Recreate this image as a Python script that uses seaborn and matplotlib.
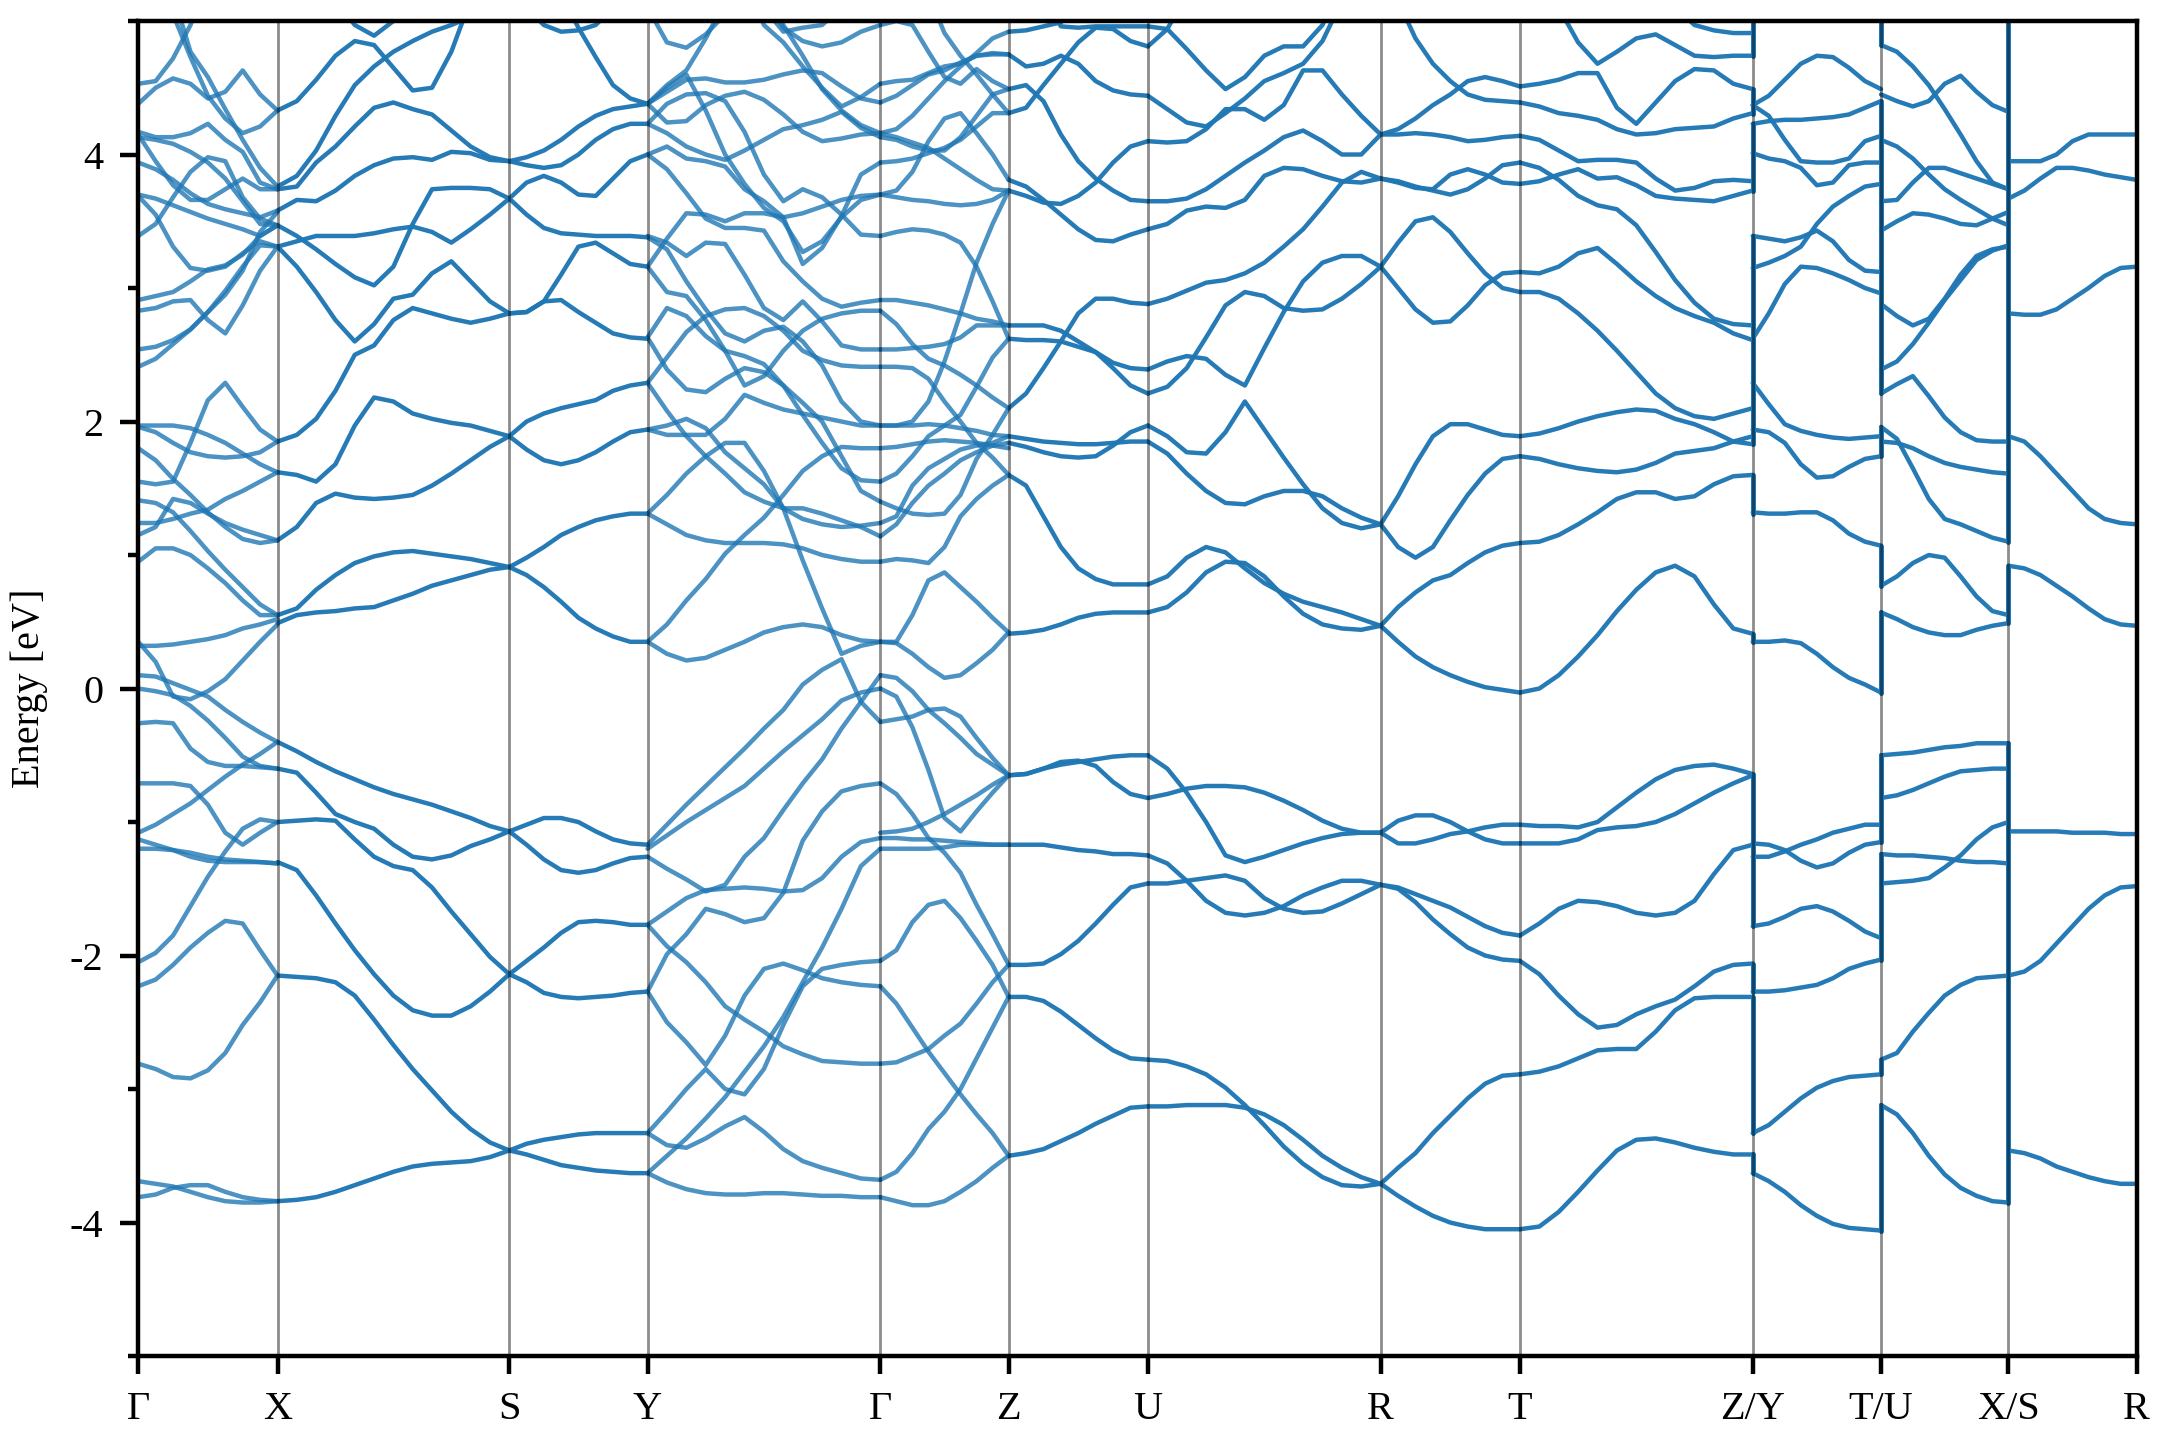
import numpy as np
import pandas as pd
import matplotlib
matplotlib.use("Agg")
import matplotlib.pyplot as plt
import seaborn as sns

# k-path nodes and labels
k_nodes = [0, 140, 373, 512, 746, 875, 1015, 1249, 1389, 1623, 1752, 1880, 2009]
k_labels = ["Γ", "X", "S", "Y", "Γ", "Z", "U", "R", "T", "Z/Y", "T/U", "X/S", "R"]

# energies in eV, one list per band piece, even k steps in each path segment
gamma_x = [
    [4.53, 4.55, 4.72, 4.97, 5.3, 5.5, 5.5, 5.5, 5.5],
    [4.38, 4.50, 4.57, 4.53, 4.42, 4.47, 4.63, 4.45, 4.33],
    [5.5, 5.5, 5.05, 4.73, 4.44, 4.27, 4.16, 4.21, 4.33],
    [5.5, 5.5, 5.2, 4.77, 4.58, 4.34, 4.11, 3.90, 3.76],
    [4.17, 4.13, 4.13, 4.16, 4.23, 4.11, 4.02, 3.79, 3.74],
    [4.15, 3.95, 3.77, 3.66, 3.66, 3.74, 3.82, 3.74, 3.74],
    [4.13, 4.11, 4.08, 4.02, 3.94, 3.82, 3.65, 3.48, 3.47],
    [3.94, 3.89, 3.81, 3.71, 3.63, 3.59, 3.56, 3.53, 3.58],
    [3.70, 3.67, 3.62, 3.57, 3.52, 3.48, 3.44, 3.39, 3.47],
    [3.69, 3.55, 3.31, 3.15, 3.13, 3.16, 3.26, 3.35, 3.31],
    [3.39, 3.48, 3.68, 3.87, 3.98, 3.95, 3.68, 3.52, 3.47],
    [2.91, 2.94, 2.97, 3.05, 3.14, 3.17, 3.25, 3.39, 3.47],
    [2.83, 2.85, 2.90, 2.91, 2.76, 2.66, 2.87, 3.13, 3.31],
    [2.54, 2.56, 2.61, 2.69, 2.82, 2.98, 3.16, 3.32, 3.31],
    [2.41, 2.47, 2.58, 2.69, 2.82, 2.95, 3.13, 3.42, 3.57],
    [1.97, 1.97, 1.97, 1.95, 1.90, 1.84, 1.76, 1.68, 1.62],
    [1.96, 1.92, 1.84, 1.77, 1.74, 1.73, 1.74, 1.77, 1.85],
    [1.80, 1.71, 1.57, 1.45, 1.32, 1.21, 1.12, 1.09, 1.11],
    [1.55, 1.53, 1.55, 1.84, 2.16, 2.29, 2.11, 1.94, 1.85],
    [1.41, 1.39, 1.32, 1.18, 1.03, 0.89, 0.76, 0.63, 0.55],
    [1.24, 1.24, 1.27, 1.31, 1.34, 1.42, 1.48, 1.55, 1.62],
    [1.15, 1.21, 1.42, 1.39, 1.31, 1.24, 1.19, 1.15, 1.11],
    [0.95, 1.05, 1.05, 1.00, 0.90, 0.79, 0.66, 0.55, 0.55],
    [0.32, 0.32, 0.33, 0.35, 0.37, 0.40, 0.45, 0.48, 0.52],
    [0.35, 0.20, -0.06, -0.08, -0.02, 0.07, 0.21, 0.35, 0.48],
    [0.10, 0.09, 0.04, -0.01, -0.06, -0.16, -0.25, -0.33, -0.40],
    [0.00, -0.02, -0.05, -0.13, -0.24, -0.37, -0.51, -0.58, -0.60],
    [-0.26, -0.25, -0.26, -0.45, -0.55, -0.58, -0.58, -0.59, -0.60],
    [-0.71, -0.71, -0.71, -0.73, -0.87, -1.08, -1.17, -1.08, -1.00],
    [-1.08, -1.02, -0.94, -0.86, -0.76, -0.66, -0.57, -0.49, -0.40],
    [-1.13, -1.17, -1.21, -1.26, -1.29, -1.30, -1.30, -1.30, -1.31],
    [-1.20, -1.20, -1.21, -1.23, -1.26, -1.28, -1.29, -1.30, -1.31],
    [-2.05, -1.98, -1.85, -1.63, -1.41, -1.22, -1.05, -0.98, -1.00],
    [-2.23, -2.18, -2.07, -1.94, -1.83, -1.74, -1.76, -1.96, -2.15],
    [-2.81, -2.85, -2.91, -2.92, -2.86, -2.73, -2.52, -2.35, -2.15],
    [-3.69, -3.71, -3.73, -3.77, -3.81, -3.84, -3.85, -3.85, -3.84],
    [-3.81, -3.79, -3.74, -3.72, -3.72, -3.77, -3.81, -3.83, -3.84],
]

x_s = [
    [4.33, 4.40, 4.56, 4.74, 4.85, 4.82, 4.65, 4.48, 4.50, 4.77, 5.16, 5.5, 5.5],
    [3.76, 3.84, 4.03, 4.29, 4.52, 4.66, 4.77, 4.85, 4.92, 4.97, 5.03, 5.2, 5.4],
    [5.5, 5.5, 5.5, 5.16, 4.97, 4.89, 5.0, 5.16, 5.5, 5.5, 5.5, 5.5, 5.5],
    [3.74, 3.76, 3.94, 4.06, 4.21, 4.35, 4.39, 4.34, 4.30, 4.18, 4.06, 3.98, 3.95],
    [3.58, 3.66, 3.65, 3.73, 3.84, 3.92, 3.97, 3.98, 3.96, 4.02, 4.01, 3.96, 3.95],
    [3.47, 3.39, 3.29, 3.18, 3.08, 3.02, 3.16, 3.48, 3.74, 3.75, 3.75, 3.74, 3.67],
    [3.31, 3.35, 3.39, 3.39, 3.39, 3.41, 3.44, 3.46, 3.42, 3.34, 3.44, 3.55, 3.67],
    [3.31, 3.16, 2.97, 2.76, 2.60, 2.73, 2.92, 2.95, 3.11, 3.20, 3.05, 2.90, 2.81],
    [1.85, 1.90, 2.02, 2.23, 2.50, 2.57, 2.76, 2.85, 2.81, 2.77, 2.74, 2.77, 2.81],
    [1.62, 1.60, 1.55, 1.68, 1.97, 2.18, 2.15, 2.06, 2.02, 1.99, 1.97, 1.93, 1.89],
    [1.11, 1.21, 1.39, 1.46, 1.43, 1.42, 1.43, 1.45, 1.52, 1.61, 1.71, 1.81, 1.89],
    [0.55, 0.60, 0.74, 0.85, 0.94, 0.99, 1.02, 1.03, 1.01, 0.99, 0.97, 0.94, 0.91],
    [0.49, 0.55, 0.57, 0.58, 0.60, 0.61, 0.66, 0.71, 0.77, 0.81, 0.85, 0.89, 0.91],
    [-0.40, -0.47, -0.55, -0.62, -0.68, -0.74, -0.79, -0.83, -0.87, -0.92, -0.97, -1.03, -1.07],
    [-0.60, -0.63, -0.78, -0.94, -1.00, -1.05, -1.17, -1.26, -1.28, -1.25, -1.18, -1.13, -1.07],
    [-1.00, -0.99, -0.98, -0.99, -1.13, -1.26, -1.33, -1.36, -1.49, -1.67, -1.84, -2.01, -2.14],
    [-1.30, -1.36, -1.55, -1.76, -1.96, -2.14, -2.30, -2.41, -2.45, -2.45, -2.38, -2.27, -2.14],
    [-2.15, -2.16, -2.17, -2.20, -2.30, -2.48, -2.67, -2.85, -3.01, -3.17, -3.30, -3.40, -3.46],
    [-3.84, -3.83, -3.81, -3.77, -3.72, -3.67, -3.62, -3.58, -3.56, -3.55, -3.54, -3.51, -3.46],
]

s_y = [
    [5.2, 5.1, 4.97, 4.92, 4.93, 4.97, 5.1, 5.3, 5.3],
    [5.5, 5.5, 5.4, 5.2, 4.95, 4.73, 4.52, 4.42, 4.38],
    [3.95, 3.98, 4.03, 4.11, 4.21, 4.29, 4.34, 4.36, 4.38],
    [3.95, 3.92, 3.90, 3.92, 4.00, 4.11, 4.19, 4.23, 4.23],
    [3.67, 3.79, 3.84, 3.79, 3.70, 3.69, 3.82, 3.95, 4.00],
    [3.67, 3.55, 3.45, 3.41, 3.40, 3.39, 3.39, 3.39, 3.38],
    [2.81, 2.82, 2.90, 3.10, 3.31, 3.34, 3.26, 3.18, 3.16],
    [2.81, 2.82, 2.90, 2.91, 2.82, 2.74, 2.66, 2.63, 2.62],
    [1.89, 1.79, 1.71, 1.68, 1.71, 1.77, 1.85, 1.92, 1.94],
    [1.89, 2.00, 2.06, 2.10, 2.13, 2.16, 2.23, 2.27, 2.29],
    [0.91, 0.98, 1.06, 1.15, 1.21, 1.26, 1.29, 1.31, 1.31],
    [0.91, 0.85, 0.76, 0.65, 0.53, 0.45, 0.39, 0.35, 0.35],
    [-1.07, -1.02, -0.97, -0.97, -1.00, -1.07, -1.13, -1.16, -1.17],
    [-1.07, -1.17, -1.28, -1.36, -1.38, -1.36, -1.31, -1.27, -1.26],
    [-2.14, -2.04, -1.94, -1.83, -1.75, -1.74, -1.75, -1.77, -1.77],
    [-2.14, -2.20, -2.28, -2.31, -2.32, -2.31, -2.30, -2.28, -2.27],
    [-3.46, -3.41, -3.38, -3.36, -3.34, -3.33, -3.33, -3.33, -3.33],
    [-3.46, -3.49, -3.53, -3.57, -3.59, -3.61, -3.62, -3.63, -3.63],
]

y_gamma = [
    [4.38, 4.52, 4.63, 4.87, 5.15, 5.3, 4.97, 4.84, 4.66, 4.50, 4.36, 4.43, 4.53],
    [5.1, 4.84, 4.80, 4.90, 5.05, 5.2, 5.1, 4.92, 4.95, 4.97, 5.1, 5.2, 5.2],
    [5.5, 5.5, 5.5, 5.5, 5.5, 5.5, 5.2, 4.95, 4.85, 4.81, 4.84, 4.92, 4.97],
    [5.5, 5.5, 5.5, 5.5, 5.5, 5.5, 5.3, 4.97, 4.74, 4.49, 4.33, 4.22, 4.16],
    [4.38, 4.47, 4.56, 4.57, 4.54, 4.54, 4.56, 4.60, 4.63, 4.61, 4.51, 4.42, 4.39],
    [4.38, 4.24, 4.25, 4.37, 4.44, 4.47, 4.41, 4.30, 4.17, 4.10, 4.12, 4.15, 4.16],
    [4.23, 4.38, 4.45, 4.46, 4.40, 4.17, 3.85, 3.65, 3.74, 3.68, 3.55, 3.40, 3.39],
    [4.23, 4.16, 4.06, 4.00, 3.96, 4.03, 4.11, 4.19, 4.22, 4.26, 4.32, 4.20, 4.13],
    [4.00, 4.06, 3.97, 3.95, 3.91, 3.74, 3.65, 3.53, 3.18, 3.30, 3.54, 3.85, 3.94],
    [4.38, 4.50, 4.60, 4.33, 4.00, 3.78, 3.60, 3.50, 3.27, 3.35, 3.53, 3.66, 3.70],
    [4.00, 3.89, 3.71, 3.52, 3.45, 3.45, 3.43, 3.20, 3.05, 2.92, 2.86, 2.89, 2.91],
    [3.16, 3.37, 3.56, 3.55, 3.50, 3.56, 3.56, 3.53, 3.56, 3.61, 3.66, 3.69, 3.70],
    [3.39, 3.34, 3.24, 3.34, 3.33, 3.10, 2.85, 2.76, 2.90, 2.75, 2.57, 2.54, 2.54],
    [3.38, 3.29, 3.05, 2.84, 2.66, 2.60, 2.68, 2.71, 2.60, 2.42, 2.15, 2.00, 1.97],
    [3.16, 2.97, 2.94, 2.76, 2.53, 2.27, 2.34, 2.53, 2.68, 2.77, 2.81, 2.83, 2.83],
    [2.63, 2.85, 2.79, 2.64, 2.53, 2.49, 2.43, 2.27, 2.05, 1.84, 1.65, 1.56, 1.55],
    [2.63, 2.39, 2.24, 2.22, 2.32, 2.40, 2.37, 2.27, 2.14, 2.00, 1.74, 1.48, 1.40],
    [2.29, 2.48, 2.67, 2.79, 2.84, 2.85, 2.79, 2.68, 2.53, 2.46, 2.42, 2.41, 2.41],
    [2.29, 2.08, 1.89, 1.74, 1.61, 1.47, 1.40, 1.35, 1.35, 1.31, 1.26, 1.21, 1.14],
    [1.94, 1.97, 2.02, 1.95, 1.77, 1.65, 1.53, 1.35, 1.27, 1.23, 1.21, 1.22, 1.24],
    [1.94, 1.90, 1.90, 1.90, 2.02, 2.20, 2.14, 2.09, 2.06, 2.03, 2.00, 1.97, 1.97],
    [1.31, 1.45, 1.61, 1.74, 1.84, 1.84, 1.63, 1.35, 0.96, 0.60, 0.26, 0.32, 0.35],
    [1.31, 1.23, 1.15, 1.11, 1.09, 1.09, 1.09, 1.08, 1.05, 1.00, 0.97, 0.95, 0.95],
    [0.35, 0.48, 0.66, 0.82, 1.01, 1.15, 1.28, 1.45, 1.63, 1.74, 1.81, 1.80, 1.80],
    [0.35, 0.26, 0.21, 0.23, 0.29, 0.35, 0.42, 0.46, 0.48, 0.46, 0.40, 0.36, 0.35],
    [-1.17, -1.02, -0.87, -0.73, -0.59, -0.45, -0.30, -0.16, 0.03, 0.14, 0.22, -0.10, -0.25],
    [-1.20, -1.10, -1.00, -0.91, -0.82, -0.73, -0.60, -0.47, -0.35, -0.23, -0.09, -0.03, 0.00],
    [-1.26, -1.35, -1.43, -1.52, -1.47, -1.26, -1.12, -0.91, -0.71, -0.53, -0.30, -0.10, 0.10],
    [-1.77, -1.67, -1.57, -1.51, -1.50, -1.49, -1.50, -1.52, -1.51, -1.42, -1.26, -1.15, -1.12],
    [-1.77, -1.93, -2.05, -2.20, -2.38, -2.48, -2.57, -2.68, -2.74, -2.79, -2.80, -2.81, -2.81],
    [-2.27, -1.99, -1.84, -1.65, -1.69, -1.75, -1.72, -1.53, -1.14, -0.92, -0.77, -0.73, -0.71],
    [-2.27, -2.50, -2.65, -2.82, -2.60, -2.30, -2.10, -2.06, -2.11, -2.17, -2.20, -2.22, -2.23],
    [-3.33, -3.17, -3.00, -2.85, -3.00, -3.04, -2.85, -2.52, -2.23, -2.10, -2.07, -2.05, -2.04],
    [-3.33, -3.42, -3.44, -3.37, -3.28, -3.21, -3.32, -3.45, -3.54, -3.59, -3.63, -3.67, -3.68],
    [-3.63, -3.50, -3.37, -3.22, -3.06, -2.87, -2.68, -2.46, -2.20, -1.94, -1.65, -1.33, -1.20],
    [-3.63, -3.70, -3.75, -3.78, -3.79, -3.79, -3.78, -3.78, -3.79, -3.80, -3.80, -3.81, -3.81],
]

gamma_z = [
    [4.53, 4.55, 4.56, 4.61, 4.66, 4.68, 4.74, 4.76, 4.75],
    [4.39, 4.44, 4.52, 4.60, 4.63, 4.69, 4.74, 4.75, 4.75],
    [4.97, 5.0, 4.97, 4.77, 4.58, 4.53, 4.64, 4.55, 4.49],
    [5.5, 5.5, 5.3, 5.2, 4.91, 4.74, 4.60, 4.45, 4.31],
    [4.16, 4.19, 4.29, 4.42, 4.55, 4.66, 4.76, 4.87, 4.92],
    [4.13, 4.11, 4.06, 4.03, 4.03, 4.13, 4.29, 4.45, 4.49],
    [4.16, 4.13, 4.09, 4.05, 3.97, 3.89, 3.81, 3.74, 3.73],
    [3.94, 3.95, 3.97, 4.01, 4.05, 4.11, 4.21, 4.31, 4.31],
    [3.70, 3.73, 3.87, 4.10, 4.27, 4.31, 4.16, 4.00, 3.81],
    [3.70, 3.68, 3.66, 3.65, 3.63, 3.62, 3.63, 3.66, 3.73],
    [3.39, 3.42, 3.44, 3.43, 3.40, 3.34, 3.16, 2.90, 2.62],
    [2.91, 2.91, 2.89, 2.87, 2.84, 2.81, 2.77, 2.75, 2.72],
    [2.83, 2.73, 2.58, 2.47, 2.42, 2.35, 2.27, 2.18, 2.10],
    [2.54, 2.54, 2.55, 2.56, 2.58, 2.63, 2.72, 2.72, 2.72],
    [2.41, 2.41, 2.40, 2.32, 2.15, 2.00, 1.84, 1.73, 1.60],
    [1.97, 1.97, 1.97, 1.98, 1.97, 1.95, 1.93, 1.90, 1.89],
    [1.97, 1.97, 2.00, 2.15, 2.45, 2.81, 3.19, 3.48, 3.73],
    [1.80, 1.81, 1.83, 1.85, 1.86, 1.85, 1.84, 1.82, 1.80],
    [1.55, 1.61, 1.74, 1.89, 1.97, 2.05, 2.26, 2.48, 2.62],
    [1.40, 1.35, 1.31, 1.30, 1.31, 1.45, 1.72, 1.90, 2.10],
    [1.24, 1.29, 1.52, 1.65, 1.72, 1.79, 1.82, 1.84, 1.89],
    [1.14, 1.23, 1.39, 1.52, 1.61, 1.71, 1.77, 1.82, 1.84],
    [0.95, 0.97, 0.96, 0.94, 1.06, 1.29, 1.42, 1.52, 1.60],
    [0.35, 0.35, 0.55, 0.81, 0.87, 0.76, 0.65, 0.53, 0.42],
    [0.35, 0.34, 0.26, 0.16, 0.08, 0.10, 0.19, 0.29, 0.42],
    [-0.25, -0.23, -0.21, -0.16, -0.15, -0.21, -0.37, -0.52, -0.65],
    [0.10, 0.08, -0.02, -0.16, -0.26, -0.37, -0.49, -0.57, -0.65],
    [0.00, -0.06, -0.29, -0.61, -0.97, -1.07, -0.92, -0.78, -0.65],
    [-0.71, -0.79, -0.94, -1.12, -1.23, -1.38, -1.62, -1.84, -2.07],
    [-1.08, -1.07, -1.05, -1.00, -0.94, -0.87, -0.80, -0.72, -0.65],
    [-1.12, -1.12, -1.13, -1.13, -1.14, -1.15, -1.16, -1.17, -1.17],
    [-1.20, -1.20, -1.20, -1.20, -1.19, -1.17, -1.17, -1.17, -1.17],
    [-2.04, -1.96, -1.75, -1.62, -1.59, -1.72, -1.89, -2.07, -2.31],
    [-2.23, -2.36, -2.54, -2.72, -2.88, -3.04, -3.19, -3.33, -3.50],
    [-2.81, -2.80, -2.75, -2.70, -2.60, -2.51, -2.36, -2.20, -2.07],
    [-3.68, -3.62, -3.48, -3.30, -3.17, -3.00, -2.77, -2.54, -2.31],
    [-3.81, -3.84, -3.87, -3.87, -3.84, -3.77, -3.69, -3.59, -3.50],
]

z_u = [
    [4.92, 4.93, 4.96, 4.99, 5.1, 5.3, 5.5, 5.5, 5.5],
    [5.5, 5.5, 5.2, 4.96, 4.95, 4.96, 4.96, 4.96, 4.96],
    [4.75, 4.66, 4.68, 4.74, 4.68, 4.55, 4.48, 4.45, 4.44],
    [4.49, 4.52, 4.40, 4.15, 3.95, 3.82, 3.73, 3.66, 3.65],
    [4.31, 4.35, 4.52, 4.68, 4.84, 4.95, 4.94, 4.85, 4.81],
    [3.81, 3.76, 3.66, 3.55, 3.44, 3.36, 3.35, 3.40, 3.44],
    [3.73, 3.69, 3.64, 3.63, 3.69, 3.79, 3.94, 4.06, 4.10],
    [2.72, 2.72, 2.72, 2.68, 2.60, 2.52, 2.44, 2.40, 2.39],
    [2.62, 2.61, 2.61, 2.60, 2.56, 2.52, 2.40, 2.27, 2.21],
    [2.10, 2.21, 2.40, 2.60, 2.81, 2.92, 2.92, 2.89, 2.88],
    [1.89, 1.87, 1.85, 1.84, 1.83, 1.83, 1.84, 1.85, 1.85],
    [1.84, 1.81, 1.77, 1.74, 1.73, 1.74, 1.82, 1.92, 1.97],
    [1.60, 1.52, 1.29, 1.06, 0.90, 0.82, 0.78, 0.78, 0.78],
    [0.41, 0.42, 0.44, 0.48, 0.53, 0.56, 0.57, 0.57, 0.57],
    [-0.65, -0.64, -0.60, -0.57, -0.55, -0.53, -0.51, -0.50, -0.50],
    [-0.65, -0.64, -0.60, -0.55, -0.54, -0.58, -0.70, -0.79, -0.82],
    [-1.17, -1.17, -1.17, -1.19, -1.21, -1.22, -1.24, -1.24, -1.25],
    [-2.07, -2.07, -2.06, -1.99, -1.89, -1.76, -1.62, -1.49, -1.46],
    [-2.31, -2.31, -2.34, -2.42, -2.52, -2.62, -2.71, -2.77, -2.78],
    [-3.50, -3.48, -3.45, -3.39, -3.33, -3.26, -3.20, -3.14, -3.13],
]

u_r = [
    [4.96, 4.94, 4.79, 4.63, 4.49, 4.58, 4.74, 4.81, 4.81, 4.97, 5.3, 5.5, 5.5],
    [4.81, 4.94, 5.2, 5.4, 5.5, 5.5, 5.5, 5.5, 5.5, 5.5, 5.5, 5.5, 5.5],
    [4.44, 4.34, 4.24, 4.21, 4.31, 4.42, 4.55, 4.61, 4.68, 4.85, 5.15, 5.4, 5.5],
    [4.10, 4.09, 4.10, 4.19, 4.34, 4.34, 4.26, 4.37, 4.63, 4.63, 4.45, 4.29, 4.15],
    [3.65, 3.65, 3.67, 3.74, 3.84, 3.94, 4.03, 4.13, 4.18, 4.10, 4.00, 4.00, 4.15],
    [3.44, 3.48, 3.58, 3.61, 3.60, 3.66, 3.84, 3.90, 3.89, 3.84, 3.80, 3.79, 3.82],
    [2.88, 2.92, 2.98, 3.04, 3.06, 3.11, 3.19, 3.31, 3.44, 3.61, 3.79, 3.87, 3.82],
    [2.39, 2.45, 2.49, 2.47, 2.35, 2.27, 2.55, 2.82, 3.05, 3.19, 3.24, 3.24, 3.16],
    [2.21, 2.26, 2.40, 2.63, 2.87, 2.97, 2.94, 2.85, 2.83, 2.84, 2.92, 3.03, 3.16],
    [1.97, 1.89, 1.77, 1.76, 1.92, 2.15, 1.94, 1.73, 1.53, 1.35, 1.24, 1.20, 1.23],
    [1.85, 1.76, 1.61, 1.48, 1.39, 1.38, 1.44, 1.48, 1.48, 1.44, 1.35, 1.28, 1.23],
    [0.78, 0.84, 0.98, 1.06, 1.02, 0.90, 0.79, 0.71, 0.65, 0.61, 0.57, 0.52, 0.47],
    [0.57, 0.61, 0.72, 0.87, 0.95, 0.94, 0.84, 0.69, 0.56, 0.48, 0.45, 0.44, 0.47],
    [-0.50, -0.60, -0.78, -1.00, -1.25, -1.30, -1.26, -1.21, -1.16, -1.12, -1.09, -1.08, -1.08],
    [-0.82, -0.79, -0.75, -0.73, -0.73, -0.74, -0.78, -0.84, -0.91, -0.99, -1.05, -1.08, -1.08],
    [-1.25, -1.31, -1.44, -1.59, -1.68, -1.70, -1.68, -1.63, -1.55, -1.49, -1.44, -1.44, -1.47],
    [-1.46, -1.46, -1.44, -1.42, -1.40, -1.44, -1.57, -1.65, -1.68, -1.67, -1.61, -1.54, -1.47],
    [-2.78, -2.79, -2.83, -2.89, -2.99, -3.12, -3.27, -3.43, -3.56, -3.66, -3.72, -3.73, -3.71],
    [-3.13, -3.13, -3.12, -3.12, -3.12, -3.14, -3.19, -3.27, -3.38, -3.50, -3.59, -3.66, -3.71],
]

r_t = [
    [5.5, 5.15, 4.87, 4.68, 4.55, 4.45, 4.41, 4.40, 4.39],
    [4.15, 4.19, 4.27, 4.37, 4.45, 4.55, 4.58, 4.55, 4.51],
    [4.15, 4.15, 4.16, 4.15, 4.13, 4.10, 4.11, 4.13, 4.14],
    [3.82, 3.79, 3.75, 3.74, 3.85, 3.89, 3.85, 3.79, 3.78],
    [3.82, 3.80, 3.76, 3.73, 3.70, 3.74, 3.82, 3.92, 3.94],
    [3.16, 3.34, 3.50, 3.53, 3.42, 3.26, 3.11, 3.00, 2.97],
    [3.16, 3.00, 2.84, 2.74, 2.75, 2.87, 3.02, 3.11, 3.12],
    [1.23, 1.44, 1.68, 1.89, 1.98, 1.98, 1.94, 1.90, 1.89],
    [1.23, 1.06, 0.98, 1.06, 1.26, 1.45, 1.61, 1.72, 1.74],
    [0.47, 0.61, 0.72, 0.81, 0.85, 0.94, 1.02, 1.07, 1.09],
    [0.47, 0.35, 0.24, 0.16, 0.10, 0.05, 0.01, -0.01, -0.03],
    [-1.08, -0.99, -0.95, -0.95, -1.00, -1.07, -1.13, -1.16, -1.16],
    [-1.08, -1.16, -1.16, -1.13, -1.09, -1.07, -1.04, -1.02, -1.02],
    [-1.47, -1.49, -1.54, -1.59, -1.64, -1.71, -1.78, -1.83, -1.85],
    [-1.47, -1.50, -1.60, -1.73, -1.84, -1.94, -2.00, -2.03, -2.04],
    [-3.71, -3.59, -3.48, -3.33, -3.20, -3.07, -2.96, -2.90, -2.89],
    [-3.71, -3.80, -3.88, -3.95, -4.00, -4.03, -4.05, -4.05, -4.05],
]

t_zy = [
    [5.5, 5.4, 5.1, 4.84, 4.68, 4.77, 4.87, 4.90, 4.82, 4.74, 4.73, 4.74, 4.74],
    [5.5, 5.5, 5.5, 5.5, 5.5, 5.5, 5.5, 5.4, 5.1, 4.97, 4.93, 4.91, 4.91],
    [4.51, 4.53, 4.56, 4.61, 4.61, 4.35, 4.23, 4.39, 4.55, 4.64, 4.63, 4.53, 4.49],
    [4.39, 4.36, 4.31, 4.29, 4.26, 4.19, 4.15, 4.16, 4.19, 4.20, 4.21, 4.27, 4.31],
    [4.14, 4.11, 4.03, 3.95, 3.96, 3.96, 3.94, 3.82, 3.73, 3.75, 3.80, 3.81, 3.80],
    [3.94, 3.90, 3.81, 3.69, 3.62, 3.59, 3.47, 3.27, 3.06, 2.89, 2.77, 2.73, 2.72],
    [3.78, 3.80, 3.85, 3.89, 3.82, 3.83, 3.77, 3.69, 3.67, 3.66, 3.65, 3.69, 3.73],
    [3.12, 3.11, 3.16, 3.26, 3.30, 3.18, 3.05, 2.94, 2.85, 2.79, 2.74, 2.66, 2.61],
    [2.97, 2.97, 2.92, 2.81, 2.68, 2.53, 2.37, 2.21, 2.10, 2.04, 2.02, 2.06, 2.10],
    [1.89, 1.91, 1.95, 2.00, 2.04, 2.07, 2.09, 2.08, 2.02, 1.98, 1.92, 1.85, 1.83],
    [1.74, 1.72, 1.68, 1.65, 1.63, 1.62, 1.64, 1.69, 1.76, 1.78, 1.80, 1.85, 1.89],
    [1.09, 1.10, 1.15, 1.23, 1.32, 1.42, 1.47, 1.47, 1.42, 1.44, 1.53, 1.59, 1.60],
    [-0.03, 0.00, 0.10, 0.24, 0.40, 0.58, 0.74, 0.87, 0.92, 0.84, 0.63, 0.45, 0.41],
    [-1.02, -1.03, -1.03, -1.04, -1.00, -0.89, -0.78, -0.68, -0.61, -0.58, -0.57, -0.60, -0.64],
    [-1.16, -1.16, -1.16, -1.13, -1.06, -1.04, -1.03, -1.00, -0.94, -0.86, -0.78, -0.71, -0.65],
    [-1.85, -1.76, -1.65, -1.59, -1.60, -1.63, -1.68, -1.70, -1.68, -1.59, -1.39, -1.21, -1.17],
    [-2.04, -2.14, -2.30, -2.44, -2.54, -2.52, -2.44, -2.38, -2.33, -2.23, -2.12, -2.07, -2.06],
    [-2.89, -2.87, -2.83, -2.77, -2.71, -2.70, -2.70, -2.57, -2.41, -2.32, -2.31, -2.31, -2.31],
    [-4.05, -4.03, -3.92, -3.77, -3.61, -3.46, -3.38, -3.37, -3.40, -3.44, -3.47, -3.49, -3.49],
]

y_t = [
    [4.37, 4.44, 4.56, 4.68, 4.74, 4.73, 4.65, 4.55, 4.49],
    [4.37, 4.29, 4.11, 3.95, 3.94, 3.94, 3.97, 4.10, 4.14],
    [4.23, 4.25, 4.26, 4.26, 4.27, 4.28, 4.30, 4.35, 4.40],
    [4.01, 3.97, 3.95, 3.90, 3.77, 3.79, 3.92, 3.94, 3.94],
    [3.39, 3.37, 3.35, 3.38, 3.43, 3.35, 3.21, 3.13, 3.12],
    [3.15, 3.19, 3.24, 3.31, 3.48, 3.61, 3.69, 3.76, 3.78],
    [2.62, 2.81, 3.03, 3.16, 3.15, 3.11, 3.06, 3.00, 2.96],
    [2.29, 2.13, 1.98, 1.93, 1.90, 1.88, 1.87, 1.88, 1.89],
    [1.94, 1.92, 1.84, 1.68, 1.58, 1.59, 1.66, 1.72, 1.74],
    [1.32, 1.31, 1.31, 1.32, 1.32, 1.26, 1.16, 1.10, 1.07],
    [0.35, 0.35, 0.36, 0.34, 0.26, 0.16, 0.08, 0.03, -0.03],
    [-1.16, -1.17, -1.21, -1.29, -1.34, -1.31, -1.23, -1.17, -1.15],
    [-1.26, -1.26, -1.22, -1.17, -1.13, -1.08, -1.05, -1.02, -1.02],
    [-1.78, -1.76, -1.71, -1.65, -1.63, -1.67, -1.74, -1.82, -1.87],
    [-2.27, -2.27, -2.26, -2.24, -2.22, -2.17, -2.10, -2.06, -2.03],
    [-3.33, -3.27, -3.17, -3.07, -2.99, -2.94, -2.91, -2.90, -2.89],
    [-3.63, -3.69, -3.77, -3.87, -3.95, -4.01, -4.04, -4.05, -4.06],
]

u_x = [
    [4.82, 4.77, 4.66, 4.52, 4.34, 4.15, 3.95, 3.79, 3.74],
    [4.45, 4.40, 4.36, 4.40, 4.53, 4.59, 4.47, 4.37, 4.32],
    [4.11, 4.06, 3.97, 3.85, 3.74, 3.66, 3.59, 3.52, 3.47],
    [3.65, 3.66, 3.79, 3.90, 3.90, 3.86, 3.82, 3.78, 3.74],
    [3.43, 3.50, 3.56, 3.55, 3.52, 3.48, 3.47, 3.52, 3.57],
    [2.88, 2.79, 2.72, 2.77, 2.92, 3.10, 3.24, 3.29, 3.31],
    [2.39, 2.45, 2.58, 2.74, 2.91, 3.06, 3.21, 3.28, 3.32],
    [2.21, 2.28, 2.34, 2.19, 2.03, 1.92, 1.86, 1.85, 1.85],
    [1.96, 1.87, 1.65, 1.42, 1.27, 1.23, 1.18, 1.13, 1.10],
    [1.85, 1.84, 1.80, 1.74, 1.69, 1.66, 1.64, 1.62, 1.61],
    [0.77, 0.84, 0.94, 1.00, 0.98, 0.84, 0.69, 0.58, 0.55],
    [0.57, 0.52, 0.46, 0.42, 0.40, 0.40, 0.44, 0.47, 0.49],
    [-0.50, -0.49, -0.48, -0.46, -0.44, -0.43, -0.41, -0.41, -0.41],
    [-0.82, -0.80, -0.76, -0.71, -0.66, -0.62, -0.61, -0.60, -0.60],
    [-1.24, -1.25, -1.25, -1.26, -1.27, -1.29, -1.30, -1.30, -1.31],
    [-1.46, -1.45, -1.44, -1.42, -1.34, -1.25, -1.13, -1.04, -1.00],
    [-2.78, -2.73, -2.57, -2.43, -2.30, -2.22, -2.17, -2.16, -2.15],
    [-3.12, -3.19, -3.33, -3.50, -3.64, -3.74, -3.80, -3.84, -3.85],
]

s_r = [
    [3.95, 3.95, 3.95, 4.00, 4.10, 4.15, 4.15, 4.15, 4.15],
    [3.67, 3.73, 3.82, 3.90, 3.90, 3.88, 3.85, 3.83, 3.81],
    [2.81, 2.80, 2.80, 2.84, 2.92, 3.00, 3.09, 3.15, 3.16],
    [1.89, 1.85, 1.74, 1.61, 1.48, 1.35, 1.27, 1.24, 1.23],
    [0.92, 0.90, 0.85, 0.77, 0.69, 0.60, 0.52, 0.48, 0.47],
    [-1.07, -1.07, -1.07, -1.07, -1.08, -1.08, -1.08, -1.09, -1.09],
    [-2.15, -2.12, -2.04, -1.91, -1.78, -1.65, -1.55, -1.49, -1.48],
    [-3.46, -3.48, -3.52, -3.58, -3.62, -3.66, -3.69, -3.71, -3.71],
]

# band jumps at the broken path points
jumps_zy = [[4.74, 5.0], [4.49, 4.30], [4.23, 3.73], [3.39, 1.83], [1.60, 1.31], [0.41, 0.35],
            [-0.64, -1.78], [-2.06, -2.27], [-2.31, -3.33], [-3.49, -3.63]]
jumps_tu = [[4.82, 5.0], [4.40, 2.21], [1.96, 1.74], [1.07, 0.77], [0.57, -0.03],
            [-0.50, -1.15], [-1.24, -2.03], [-2.78, -2.89], [-3.12, -4.06]]
jumps_xs = [[5.0, 1.10], [0.92, 0.49], [-0.41, -3.85]]

segments = [
    (gamma_x, 0, 0.8), (x_s, 1, 0.97), (s_y, 2, 0.97), (y_gamma, 3, 0.8), (gamma_z, 4, 0.8),
    (z_u, 5, 0.97), (u_r, 6, 0.97), (r_t, 7, 0.97), (t_zy, 8, 0.97), (y_t, 9, 0.97),
    (u_x, 10, 0.97), (s_r, 11, 0.97),
]

sns.set_style("ticks")
plt.rcParams["font.family"] = ["Liberation Serif", "DejaVu Serif"]
plt.rcParams["axes.linewidth"] = 1.6
plt.rcParams["axes.edgecolor"] = "black"
plt.rcParams["text.color"] = "black"
plt.rcParams["axes.labelcolor"] = "black"
plt.rcParams["xtick.color"] = "black"
plt.rcParams["ytick.color"] = "black"

fig, ax = plt.subplots(figsize=(10.8, 7.2), dpi=200)
fig.subplots_adjust(left=0.064, right=0.9892, top=0.9854, bottom=0.0583)

line_kw = dict(color="#1f77b4", linewidth=1.6, estimator=None, errorbar=None, sort=False,
               legend=False, ax=ax)

for bands, i, a in segments:
    rows = []
    for b, band in enumerate(bands):
        k = np.linspace(k_nodes[i], k_nodes[i + 1], len(band))
        rows.append(pd.DataFrame({"k": k, "energy": band, "band": b}))
    df = pd.concat(rows, ignore_index=True)
    sns.lineplot(data=df, x="k", y="energy", units="band", alpha=a, **line_kw)

for jumps, i in [(jumps_zy, 9), (jumps_tu, 10), (jumps_xs, 11)]:
    rows = [pd.DataFrame({"k": [k_nodes[i]] * 2, "energy": j, "band": b}) for b, j in enumerate(jumps)]
    df = pd.concat(rows, ignore_index=True)
    sns.lineplot(data=df, x="k", y="energy", units="band", alpha=1.0, **{**line_kw, "linewidth": 1.8})

for k in k_nodes[1:-1]:
    ax.axvline(k, color="black", alpha=0.45, linewidth=1.0, zorder=5)

ax.set_xlim(k_nodes[0], k_nodes[-1])
ax.set_ylim(-5, 5)
ax.set_xticks(k_nodes)
ax.set_xticklabels(k_labels)
ax.set_yticks([-4, -2, 0, 2, 4])
ax.set_yticklabels(["-4", "-2", "0", "2", "4"])
ax.set_yticks([-5, -3, -1, 1, 3, 5], minor=True)
ax.tick_params(axis="both", which="major", length=6.5, width=1.6, labelsize=14.5, pad=6)
ax.tick_params(axis="y", which="minor", length=3.5, width=1.6)
ax.set_xlabel("")
ax.set_ylabel("Energy [eV]", fontsize=14.5, labelpad=8)

fig.savefig("out.png", dpi=200)
